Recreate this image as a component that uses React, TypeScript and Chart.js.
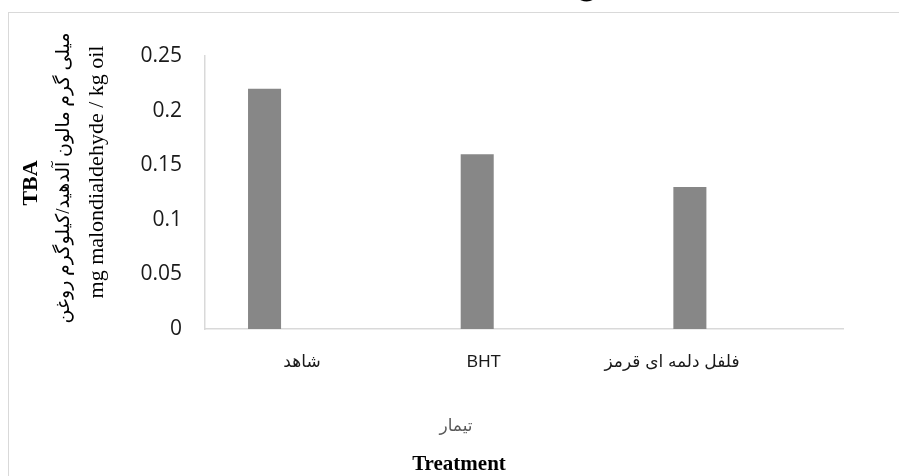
import React, { useEffect, useRef } from "react";
import { Chart, registerables } from "chart.js";

Chart.register(...registerables);

const categories = ["شاهد", "BHT", "فلفل دلمه ای قرمز"];
const tbaValues = [0.22, 0.16, 0.13];
const emptySeries = [null, null, null];
const yTickLabels = ["0", "0.05", "0.1", "0.15", "0.2", "0.25"];
const yTitleBold = "TBA";
const yTitlePersian = "میلی گرم مالون آلدهید/کیلوگرم روغن";
const yTitleEnglish = "mg malondialdehyde / kg oil";
const xTitlePersian = "تیمار";
const xTitleEnglish = "Treatment";
const yMin = 0;
const yMax = 0.25;
const yStep = 0.05;

const PERSIAN_SANS = '"Liberation Sans", "DejaVu Sans", sans-serif';
const PERSIAN_SERIF = '"Liberation Serif", "DejaVu Serif", "DejaVu Sans", serif';

const textPlugin = {
  id: "customText",
  afterDraw(chart: any) {
    const ctx = chart.ctx as CanvasRenderingContext2D;
    const area = chart.chartArea;
    const w = area.right - area.left;
    ctx.save();
    // outer frame
    ctx.strokeStyle = "#d9d9d9";
    ctx.lineWidth = 1;
    ctx.strokeRect(8.5, 12.5, 1200, 1200);

    // cut-off caption glyph at top
    ctx.fillStyle = "#000";
    ctx.font = `30px ${PERSIAN_SERIF}`;
    ctx.textAlign = "center";
    ctx.textBaseline = "alphabetic";
    ctx.fillText("ج", 583, -6);

    // x category labels
    const anchors = [0.152, 0.437, 0.732];
    ctx.font = `17px ${PERSIAN_SANS}`;
    ctx.fillStyle = "#1a1a1a";
    ctx.textAlign = "center";
    ctx.textBaseline = "alphabetic";
    categories.forEach((c, i) => {
      ctx.direction = /[\u0600-\u06FF]/.test(c) ? "rtl" : "ltr";
      ctx.fillText(c, area.left + w * anchors[i], 367);
    });

    // x title
    ctx.direction = "rtl";
    ctx.fillStyle = "#595959";
    ctx.font = `17px ${PERSIAN_SANS}`;
    ctx.textBaseline = "middle";
    ctx.fillText(xTitlePersian, 456, 426);
    ctx.direction = "ltr";
    ctx.fillStyle = "#000";
    ctx.font = `bold 21px "Liberation Serif", serif`;
    ctx.textBaseline = "alphabetic";
    ctx.fillText(xTitleEnglish, 459, 470);

    // y title (rotated)
    const drawRot = (text: string, x: number, y: number, font: string, dir: CanvasDirection, baseline: CanvasTextBaseline) => {
      ctx.save();
      ctx.translate(x, y);
      ctx.rotate(-Math.PI / 2);
      ctx.font = font;
      ctx.direction = dir;
      ctx.textAlign = "center";
      ctx.textBaseline = baseline;
      ctx.fillStyle = "#000";
      ctx.fillText(text, 0, 0);
      ctx.restore();
    };
    drawRot(yTitleBold, 37, 183, `bold 22px "Liberation Serif", serif`, "ltr", "alphabetic");
    drawRot(yTitlePersian, 64, 178, `19px ${PERSIAN_SERIF}`, "rtl", "middle");
    drawRot(yTitleEnglish, 103, 172, `22px "Liberation Serif", serif`, "ltr", "alphabetic");
    ctx.restore();
  },
};

export default function App() {
  const ref = useRef<HTMLCanvasElement | null>(null);
  useEffect(() => {
    if (!ref.current) return;
    const chart = new Chart(ref.current, {
      type: "bar",
      data: {
        labels: categories,
        datasets: [
          {
            label: "TBA",
            data: tbaValues,
            backgroundColor: "#878787",
            borderWidth: 0,
            categoryPercentage: 0.88,
            barPercentage: 0.353,
          },
          {
            label: "empty",
            data: emptySeries as any,
            backgroundColor: "#878787",
            borderWidth: 0,
            categoryPercentage: 0.88,
            barPercentage: 0.353,
          },
        ],
      },
      options: {
        animation: false,
        responsive: false,
        maintainAspectRatio: false,
        layout: { padding: { left: 0, right: 56, top: 56, bottom: 147 } },
        plugins: {
          legend: { display: false },
          tooltip: { enabled: false },
          title: { display: false },
        },
        scales: {
          x: {
            grid: { display: false, drawTicks: false },
            border: { display: true, color: "#d9d9d9", width: 1.5 },
            ticks: { display: false },
            afterFit: (s: any) => {
              s.height = 0;
            },
          },
          y: {
            min: yMin,
            max: yMax,
            grid: { display: false, drawTicks: false },
            border: { display: true, color: "#d9d9d9", width: 1.5 },
            ticks: {
              stepSize: yStep,
              padding: 23,
              color: "#1a1a1a",
              font: { family: '"Open Sans", sans-serif', size: 21 },
              callback: (_v: any, i: number) => yTickLabels[i],
            },
            afterFit: (s: any) => {
              s.width = 205;
            },
          },
        },
      },
      plugins: [textPlugin],
    });
    return () => chart.destroy();
  }, []);
  return (
    <div style={{ position: "fixed", left: 0, top: 0, width: 899, height: 476, background: "#fff" }}>
      <canvas ref={ref} width={899} height={476} style={{ display: "block" }} />
    </div>
  );
}
